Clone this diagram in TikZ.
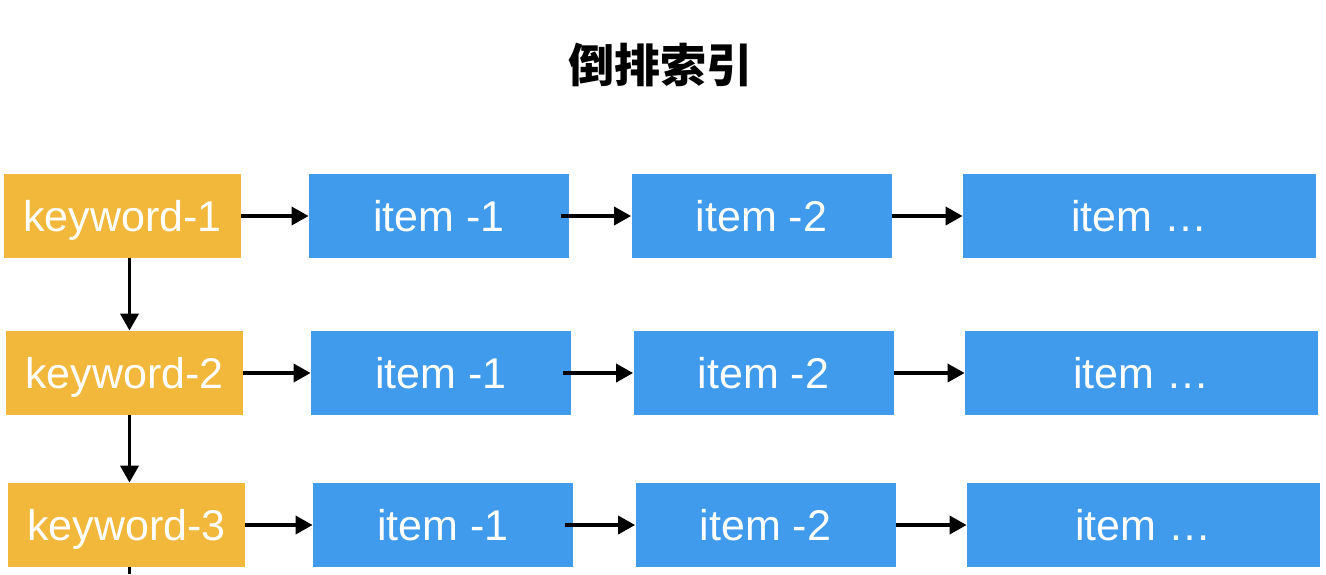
\documentclass[tikz,border=0pt]{standalone}
\usepackage{fontspec}
\setmainfont{Liberation Sans}
\newfontfamily\cjk{Noto Sans CJK SC}
\usetikzlibrary{arrows.meta}
\definecolor{kwcolor}{RGB}{241,184,60}
\definecolor{itcolor}{RGB}{64,155,236}
\tikzset{
    keybox/.style={fill=kwcolor, text=white, minimum width=118.5pt, minimum height=42pt, inner sep=0pt, text height=15.5pt, text depth=0pt, font=\fontsize{21.5}{26}\selectfont},
    itembox/.style={fill=itcolor, text=white, minimum height=42pt, inner sep=0pt, text height=15.5pt, text depth=0pt, font=\fontsize{21.5}{26}\selectfont},
    link/.style={-{Triangle[length=8.5pt,width=9pt]}, line width=1.8pt}
}
\begin{document}
\begin{tikzpicture}[x=0.5pt, y=-0.5pt]
    \useasboundingbox (0,0) rectangle (1326,574);
    \node[font=\cjk\bfseries\fontsize{23}{28}\selectfont] (title) at (660,65) {倒排索引};
    \foreach \r/\y in {1/216, 2/373, 3/525} {
        \pgfmathsetmacro{\s}{2*(\r-1)}
        \node[keybox] (k\r) at (122.5+\s,\y) {keyword-\r};
        \node[itembox, minimum width=130pt] (a\r) at (439+\s,\y) {item -1};
        \node[itembox, minimum width=130pt] (b\r) at (761.5+\s,\y) {item -2};
        \node[itembox, minimum width=176.5pt] (c\r) at (1139.5+\s,\y) {item …};
        \draw[link] (k\r) -- (a\r);
        \draw[link] ([xshift=-4pt]a\r.east) -- (b\r);
        \draw[link] (b\r) -- (c\r);
    }
    % keyword chain
    \draw[link] ([xshift=3.5pt]k1.south) -- ([xshift=2.5pt]k2.north);
    \draw[link] ([xshift=2.5pt]k2.south) -- ([xshift=1.5pt]k3.north);
    \coordinate (tail) at (129.5,574);
    \draw[line width=1.8pt] ([xshift=1.5pt]k3.south) -- (tail);
\end{tikzpicture}
\end{document}
